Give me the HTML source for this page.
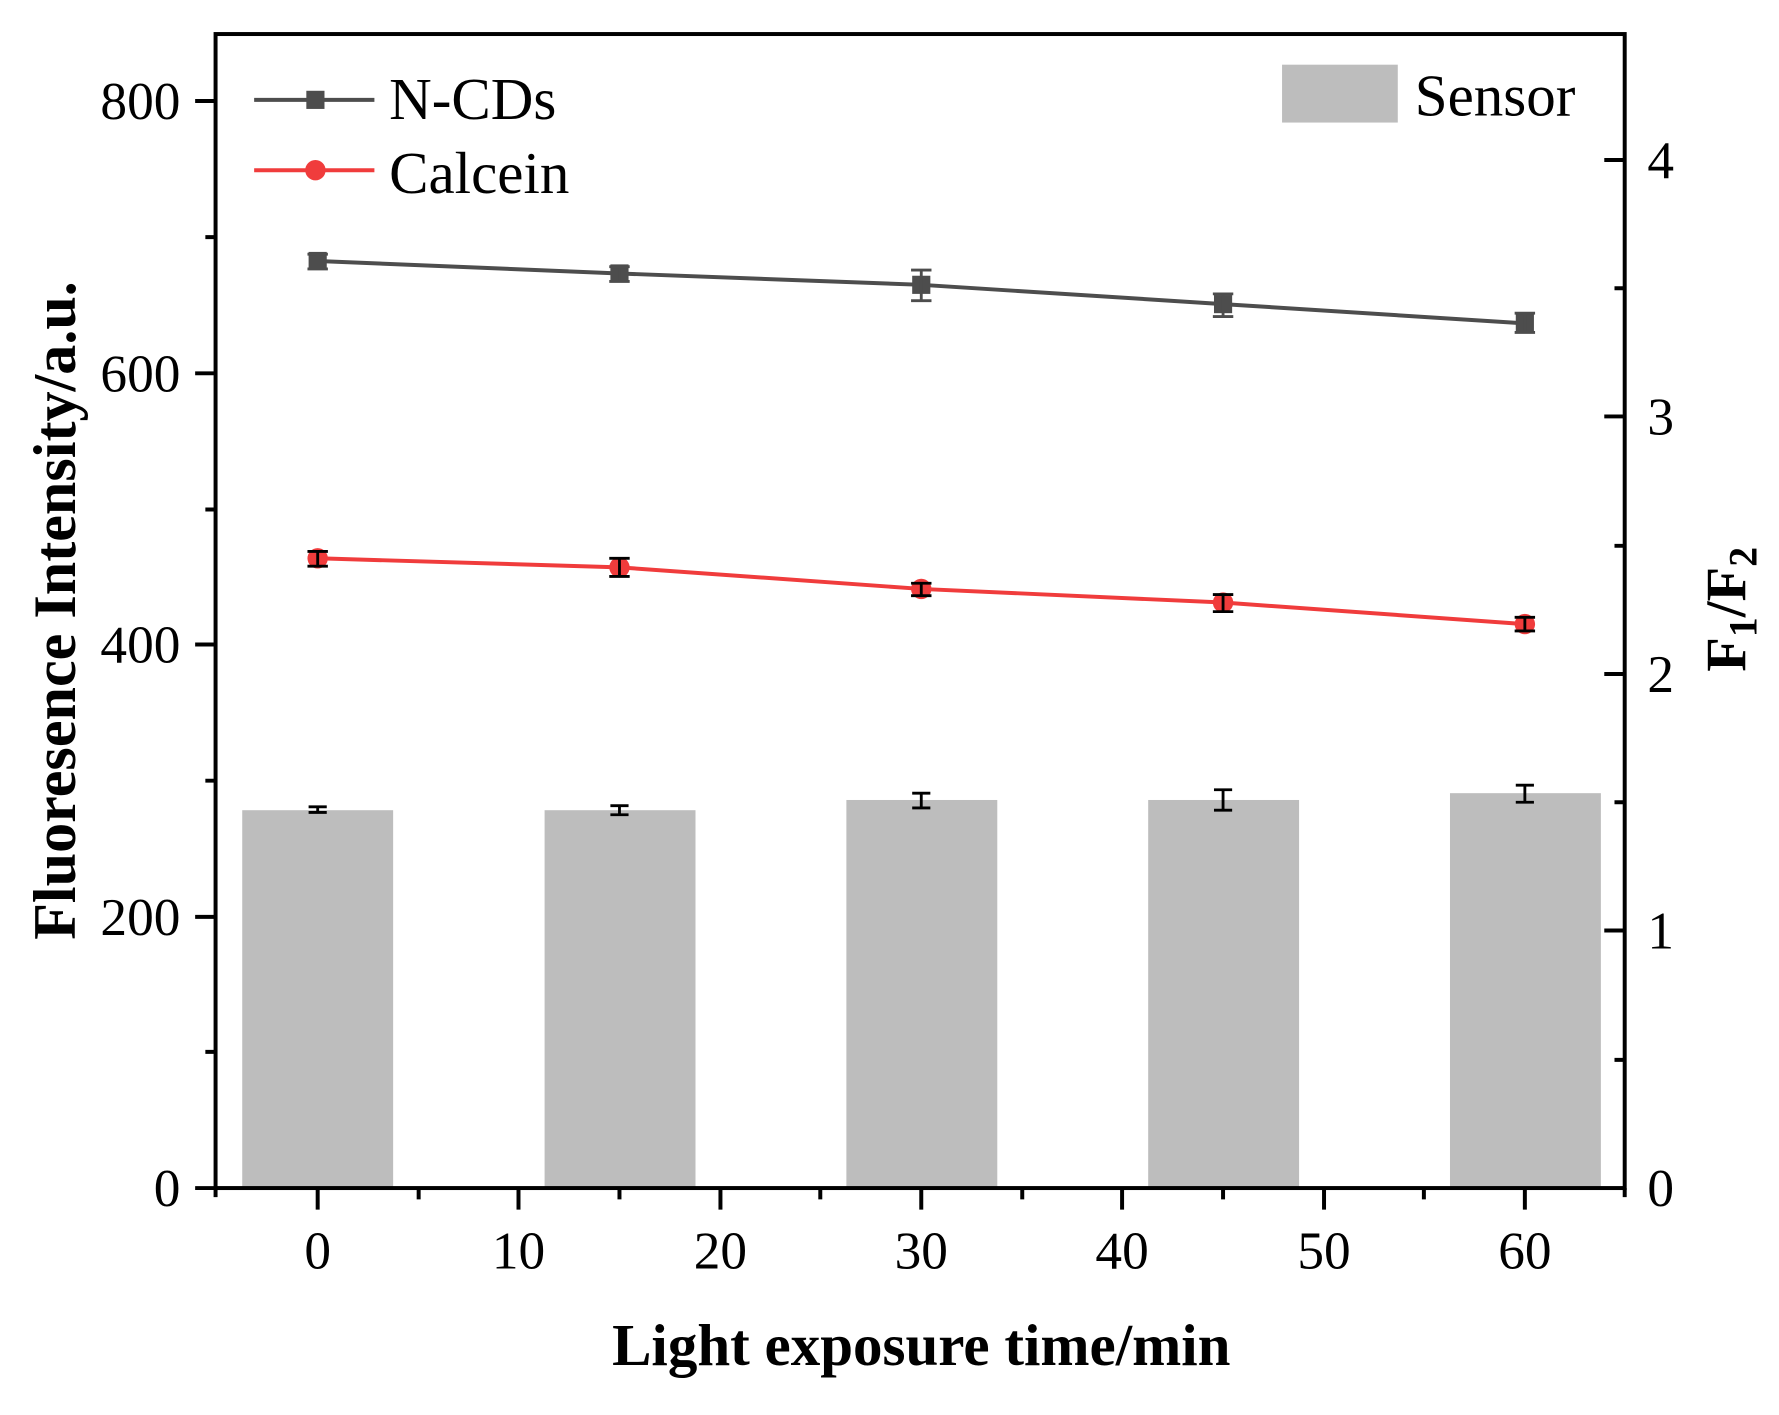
<!DOCTYPE html>
<html><head><meta charset="utf-8"><style>html,body{margin:0;padding:0;background:#fff}svg{display:block}</style></head>
<body>
<svg width="1779" height="1415" viewBox="0 0 1568 1247" preserveAspectRatio="none" xmlns="http://www.w3.org/2000/svg" font-family="Liberation Serif, serif">
<rect width="1568" height="1247" fill="#fff"/>
<g fill="#bdbdbd">
<rect x="213.5" y="714" width="133" height="333"/>
<rect x="480" y="714" width="133" height="333"/>
<rect x="746" y="705" width="133" height="342"/>
<rect x="1012" y="705" width="133" height="342"/>
<rect x="1278" y="699" width="133" height="348"/>
</g>
<g stroke="#000" stroke-width="2.5">
<path d="M280 711V716M272 711H288M272 716H288"/>
<path d="M546 710V718M538 710H554M538 718H554"/>
<path d="M812 699V712M804 699H820M804 712H820"/>
<path d="M1078 696V714M1070 696H1086M1070 714H1086"/>
<path d="M1344 692V707M1336 692H1352M1336 707H1352"/>
</g>
<polyline points="280,230 546,241 812,251 1078,268 1344,285" fill="none" stroke="#4d4d4d" stroke-width="3.5"/>
<g fill="#4d4d4d">
<rect x="272" y="222" width="16" height="16"/><rect x="538" y="233" width="16" height="16"/><rect x="804" y="243" width="16" height="16"/><rect x="1070" y="260" width="16" height="16"/><rect x="1336" y="277" width="16" height="16"/>
</g>
<g stroke="#4d4d4d" stroke-width="2.5">
<path d="M280 224V237M271 224H289M271 237H289"/>
<path d="M546 235V248M537 235H555M537 248H555"/>
<path d="M812 238V265M803 238H821M803 265H821"/>
<path d="M1078 259V279M1069 259H1087M1069 279H1087"/>
<path d="M1344 276V293M1335 276H1353M1335 293H1353"/>
</g>
<polyline points="280,492 546,500 812,519 1078,531 1344,550" fill="none" stroke="#f03c3c" stroke-width="3.5"/>
<g fill="#f03c3c">
<circle cx="280" cy="492" r="9"/><circle cx="546" cy="500" r="9"/><circle cx="812" cy="519" r="9"/><circle cx="1078" cy="531" r="9"/><circle cx="1344" cy="550" r="9"/>
</g>
<g stroke="#000" stroke-width="2.5">
<path d="M280 486V499M271 486H289M271 499H289"/>
<path d="M546 492V508M537 492H555M537 508H555"/>
<path d="M812 514V525M803 514H821M803 525H821"/>
<path d="M1078 524V539M1069 524H1087M1069 539H1087"/>
<path d="M1344 544V556M1335 544H1353M1335 556H1353"/>
</g>
<g stroke="#000" stroke-width="3.5" fill="none">
<rect x="190" y="30" width="1242" height="1017"/>
<path d="M190 1047V1055M1432 1047V1055"/>
<path d="M172 89H190M172 329H190M172 568H190M172 808H190M172 1047H190"/>
<path d="M181 209H190M181 449H190M181 688H190M181 927H190"/>
<path d="M280 1047V1066M457 1047V1066M635 1047V1066M812 1047V1066M989 1047V1066M1167 1047V1066M1344 1047V1066"/>
<path d="M369 1047V1057M546 1047V1057M723 1047V1057M901 1047V1057M1078 1047V1057M1255 1047V1057"/>
<path d="M1414 141H1432M1414 367H1432M1414 594H1432M1414 820H1432"/>
<path d="M1423 254H1432M1423 481H1432M1423 707H1432M1423 934H1432"/>
</g>
<g font-size="47" text-anchor="end">
<text x="159" y="105">800</text><text x="159" y="345">600</text><text x="159" y="584">400</text><text x="159" y="824">200</text><text x="159" y="1063">0</text>
</g>
<g font-size="47">
<text x="1452" y="157">4</text><text x="1452" y="383">3</text><text x="1452" y="610">2</text><text x="1452" y="836">1</text><text x="1452" y="1063">0</text>
</g>
<g font-size="47" text-anchor="middle">
<text x="280" y="1118">0</text><text x="457" y="1118">10</text><text x="635" y="1118">20</text><text x="812" y="1118">30</text><text x="989" y="1118">40</text><text x="1167" y="1118">50</text><text x="1344" y="1118">60</text>
</g>
<text x="812" y="1203" font-size="52" font-weight="bold" text-anchor="middle">Light exposure time/min</text>
<text transform="translate(66,538) rotate(-90)" font-size="53" font-weight="bold" text-anchor="middle">Fluoresence Intensity/a.u.</text>
<text transform="translate(1538,537) rotate(-90)" font-size="50" font-weight="bold" text-anchor="middle">F<tspan font-size="35" dy="10">1</tspan><tspan dy="-10">/F</tspan><tspan font-size="35" dy="10">2</tspan></text>
<line x1="224" y1="88" x2="330" y2="88" stroke="#4d4d4d" stroke-width="3.5"/>
<rect x="270" y="80" width="16" height="16" fill="#4d4d4d"/>
<text x="343" y="105" font-size="52">N-CDs</text>
<line x1="224" y1="150" x2="330" y2="150" stroke="#f03c3c" stroke-width="3.5"/>
<circle cx="278" cy="150" r="9" fill="#f03c3c"/>
<text x="343" y="170" font-size="52">Calcein</text>
<rect x="1130" y="57" width="102" height="51" fill="#bdbdbd"/>
<text x="1247" y="102" font-size="52">Sensor</text>
</svg>
</body></html>
